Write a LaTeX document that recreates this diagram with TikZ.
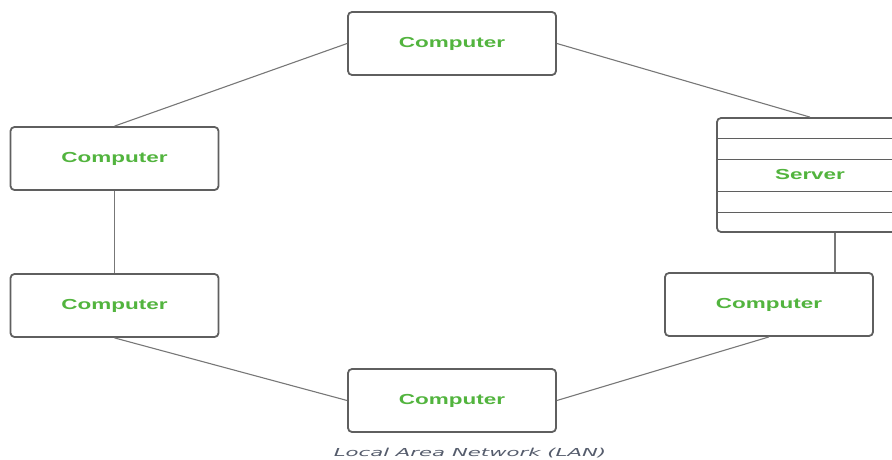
\documentclass[tikz,border=0pt]{standalone}
\usepackage{fontspec}
\newfontfamily\boxfont{Liberation Sans}[FakeStretch=1.55]
\newfontfamily\capfont{DejaVu Sans}[FakeStretch=1.93]
\definecolor{labelgreen}{RGB}{82,180,62}
\definecolor{boxline}{RGB}{95,95,95}
\definecolor{capgray}{RGB}{85,92,108}
\tikzset{
  pc/.style={draw=boxline, line width=1.8pt, rounded corners=4pt, fill=white,
    minimum width=208pt, minimum height=63pt,
    font=\boxfont\bfseries\fontsize{14.5}{16}\selectfont, text=labelgreen},
  link/.style={draw=boxline!85, line width=1.1pt}
}
\begin{document}
\begin{tikzpicture}[x=1pt,y=-1pt]
\useasboundingbox (0,0) rectangle (892,460);
\clip (0,0) rectangle (892,460);
% computers round the ring
\node[pc] (top)    at (452,43.5)  {Computer};
\node[pc] (lefta)  at (114.5,158.5) {Computer};
\node[pc] (leftb)  at (114.5,305.5) {Computer};
\node[pc] (bottom) at (452,400.5) {Computer};
\node[pc] (right)  at (769,304.5) {Computer};
% server, cut off at the edge
\node[pc, minimum width=186pt, minimum height=114pt] (server) at (810,175) {\raisebox{1.5pt}{Server}};
\foreach \y in {138,159,191,212}
  \draw[boxline, line width=1pt] (server.west |- 0,\y) -- (server.east |- 0,\y);
% links
\draw[link] (lefta.north) -- (top.west);
\draw[link] (top.east) -- (server.north);
\draw[link] (lefta.south) -- (leftb.north);
\draw[link] (leftb.south) -- (bottom.west);
\draw[link] (bottom.east) -- (right.south);
\draw[link] ([xshift=25pt]server.south) -- ([xshift=25pt]server.south |- right.north);
\node[font=\capfont\itshape\fontsize{11}{13}\selectfont, text=capgray] (caption) at (470,453) {Local Area Network (LAN)};
\end{tikzpicture}
\end{document}
